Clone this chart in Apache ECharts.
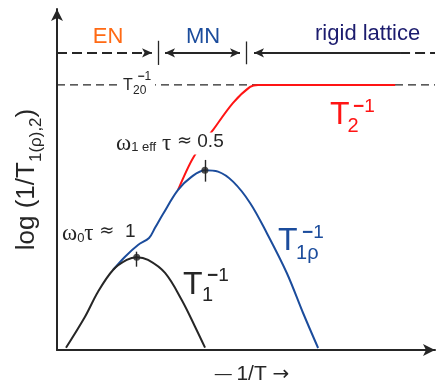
<!DOCTYPE html>
<html>
<head>
<meta charset="utf-8">
<script src="https://cdn.jsdelivr.net/npm/echarts@6/dist/echarts.min.js"></script>
<style>
  html, body { margin: 0; padding: 0; background: #fff; }
  #c { width: 441px; height: 391px; }
</style>
</head>
<body>
<div id="c"></div>
<script>
// Schematic relaxation rates against inverse temperature.
// x: -1/T (arbitrary units), y: log of the rate (arbitrary units).
const t1Curve = [[2.34, 0.67], [7.29, 9.65], [10.68, 16.9], [14.58, 23.19], [18.15, 26.09],
  [20.75, 26.87], [23.7, 26.09], [28.13, 22.32], [32.47, 14.49], [35.94, 6.75], [38.54, 0.67]];
const t1rhoCurve = [[14.58, 23.19], [17.71, 27.04], [21.09, 30.43], [23.96, 32.46], [25.52, 35.4],
  [27.6, 39.4], [31.51, 46.38], [35.08, 50.23], [38.5, 52.1], [41.93, 51.68], [45.83, 48.78],
  [50.26, 42.61], [54.61, 33.91], [59.82, 22.32], [64.06, 10.72], [67.97, 0.58]];
const t2Curve = [[31.51, 46.38], [35.42, 55.65], [40.63, 63.77], [45.83, 71.59], [50.26, 76.23],
  [52.34, 76.81], [88.02, 76.81]];
const t20Level = 76.81;          // rigid-lattice limit of 1/T2
const regimeLevel = 86.09;       // height of the regime bar
const regimeBounds = [26.3, 49.2];  // EN | MN | rigid lattice
const regimeNames = ['EN', 'MN', 'rigid lattice'];
const peakPoints = [[20.75, 26.87], [38.5, 52.1]];      // ω0τ ≈ 1 and ω1eff τ ≈ 0.5
const peakTickSpans = [[24.14, 28.49], [48.78, 55.07]];

const X_MAX = 98.4, Y_MAX = 98.8;
const GRID = { left: 57, right: 6, top: 9, bottom: 41 };
const X_UNIT = (441 - GRID.left - GRID.right) / X_MAX;   // px per x unit

const SANS = '"Liberation Sans", Arial, Helvetica, sans-serif';
const SERIF = '"Liberation Serif", "Times New Roman", serif';
const SYM = '"DejaVu Sans", sans-serif';
const INK = '#262626', BLUE = '#1b4c9c', RED = '#ff1414', ORANGE = '#ff6a14', NAVY = '#1c1c6e';

const chart = echarts.init(document.getElementById('c'), null, { renderer: 'canvas' });

const axisLine = { show: true, symbol: ['none', 'arrow'], symbolSize: [9, 12],
  lineStyle: { color: INK, width: 2 } };

// Regime bar: dashed lead-in, arrowed spans, boundary ticks
const halfArrow = 5 / X_UNIT;
const enTip = regimeBounds[0] - 1 / X_UNIT;
const mnTipL = regimeBounds[0] + 2 / X_UNIT;
const mnTipR = regimeBounds[1] - 1 / X_UNIT;
const rgTip = regimeBounds[1] + 3 / X_UNIT;
const dashStart = 22.9, dashResume = 89.3;
const solid = { type: 'solid', width: 1.8, color: INK };
const dashed = { type: [10, 5], width: 1.8, color: INK };
function seg(x1, y1, x2, y2, s1, s2, style) {
  return [{ coord: [x1, y1], symbol: s1, lineStyle: style }, { coord: [x2, y2], symbol: s2 }];
}
const regimeLines = [
  seg(0, regimeLevel, dashStart, regimeLevel, 'none', 'none', dashed),
  seg(dashStart, regimeLevel, enTip - halfArrow, regimeLevel, 'none', 'arrow', solid),
  seg(mnTipL + halfArrow, regimeLevel, mnTipR - halfArrow, regimeLevel, 'arrow', 'arrow', solid),
  seg(rgTip + halfArrow, regimeLevel, dashResume, regimeLevel, 'arrow', 'none', solid),
  seg(dashResume, regimeLevel, X_MAX, regimeLevel, 'none', 'none', dashed),
  seg(regimeBounds[0], regimeLevel - 3.5, regimeBounds[0], regimeLevel + 3.5, 'none', 'none', { type: 'solid', width: 1.3, color: INK }),
  seg(regimeBounds[1], regimeLevel - 3.3, regimeBounds[1], regimeLevel + 3.3, 'none', 'none', { type: 'solid', width: 1.3, color: INK })
];

const peakTicks = peakPoints.map((p, i) => [
  { coord: [p[0], peakTickSpans[i][0]], symbol: 'none', lineStyle: { color: INK, width: 1.4, type: 'solid' } },
  { coord: [p[0], peakTickSpans[i][1]], symbol: 'none' }
]);

chart.setOption({
  animation: false,
  grid: GRID,
  xAxis: {
    type: 'value', min: 0, max: X_MAX,
    axisLine, axisTick: { show: false }, axisLabel: { show: false }, splitLine: { show: false },
    name: '{d|— }{a|1/T }{r|→}', nameLocation: 'middle', nameGap: 14,
    nameTextStyle: {
      padding: [0, 0, 0, 12],
      rich: {
        d: { fontFamily: SANS, fontSize: 17, color: INK },
        a: { fontFamily: SANS, fontSize: 21, color: INK },
        r: { fontFamily: SYM, fontSize: 20, color: INK }
      }
    }
  },
  yAxis: {
    type: 'value', min: 0, max: Y_MAX,
    axisLine, axisTick: { show: false }, axisLabel: { show: false }, splitLine: { show: false },
    name: '{a|log (1/T}{b|1(ρ),2}{a|)}', nameLocation: 'middle', nameRotate: 90, nameGap: 12,
    nameTextStyle: {
      rich: {
        a: { fontFamily: SANS, fontSize: 26, lineHeight: 37, color: INK },
        b: { fontFamily: SANS, fontSize: 17, lineHeight: 7, verticalAlign: 'bottom', color: INK }
      }
    }
  },
  series: [
    {
      type: 'line', name: 'T20', data: [[0, t20Level], [X_MAX, t20Level]], symbol: 'none', silent: true,
      lineStyle: { color: INK, width: 1.3, type: [8, 5] },
      markLine: { silent: true, symbolSize: [7, 10], label: { show: false }, emphasis: { disabled: true }, data: regimeLines }
    },
    { type: 'line', name: 'T2', data: t2Curve, symbol: 'none', smooth: 0.3, silent: true,
      lineStyle: { color: RED, width: 2 } },
    { type: 'line', name: 'T1rho', data: t1rhoCurve, symbol: 'none', smooth: 0.35, silent: true,
      lineStyle: { color: BLUE, width: 2 } },
    { type: 'line', name: 'T1', data: t1Curve, symbol: 'none', smooth: 0.35, silent: true,
      lineStyle: { color: INK, width: 2 } },
    {
      type: 'scatter', name: 'peaks', data: peakPoints, symbol: 'circle', symbolSize: 7, silent: true,
      itemStyle: { color: INK }, z: 5,
      markLine: { silent: true, label: { show: false }, emphasis: { disabled: true }, data: peakTicks }
    }
  ]
});

// Annotations anchored in data space
function at(p) { return chart.convertToPixel({ gridIndex: 0 }, p); }

function supRich(size, color) {
  return {
    m: { fontFamily: SANS, fontSize: size, fontWeight: 'bold', fill: color },
    o: { fontFamily: SANS, fontSize: size, fill: color }
  };
}

function tensor(anchor, base, sub, sup, o) {
  const p = at(anchor);
  const els = [];
  if (o.bg) {
    els.push({ type: 'rect', shape: { x: p[0] - 4, y: p[1] - 13, width: o.bg, height: 24 },
      style: { fill: '#fff' }, z: 10 });
  }
  els.push({ type: 'text', x: p[0], y: p[1], z: 11,
    style: { text: base, fontFamily: SANS, fontSize: o.size, fill: o.color, align: 'left', verticalAlign: 'middle' } });
  els.push({ type: 'text', x: p[0] + o.sub[0], y: p[1] + o.sub[1], z: 11,
    style: { text: sub, fontFamily: SANS, fontSize: o.subSize, fill: o.color, align: 'left', verticalAlign: 'middle' } });
  els.push({ type: 'text', x: p[0] + o.sup[0], y: p[1] + o.sup[1], z: 11,
    style: { text: '{m|−}{o|' + sup + '}', rich: supRich(o.supSize, o.color), align: 'left', verticalAlign: 'middle' } });
  return els;
}

const regimeLabelY = [90.72, 90.72, 91.48];
const regimeLabelX = [13.28, 38.02, 80.86];
const regimeColors = [ORANGE, BLUE, NAVY];

const graphics = [];
regimeNames.forEach((name, i) => {
  const p = at([regimeLabelX[i], regimeLabelY[i]]);
  graphics.push({ type: 'text', x: p[0], y: p[1], z: 11,
    style: { text: name, fontFamily: SANS, fontSize: 22, fill: regimeColors[i], align: 'center', verticalAlign: 'middle' } });
});

graphics.push(...tensor([17.19, 76.52], 'T', '20', '1',
  { size: 16, subSize: 12, supSize: 12, color: INK, sub: [10, 5], sup: [14.5, -9], bg: 36 }));
graphics.push(...tensor([71.09, 68.12], 'T', '2', '1',
  { size: 32, subSize: 20, supSize: 19, color: RED, sub: [17.5, 12], sup: [23, -8.5] }));
graphics.push(...tensor([57.55, 31.45], 'T', '1ρ', '1',
  { size: 32, subSize: 20, supSize: 19, color: BLUE, sub: [18, 12], sup: [24, -8.5] }));
graphics.push(...tensor([32.81, 18.84], 'T', '1', '1',
  { size: 32, subSize: 20, supSize: 19, color: INK, sub: [19, 11], sup: [24, -9] }));

const omegaRich = {
  w: { fontFamily: SERIF, fontSize: 23, lineHeight: 22, verticalAlign: 'top', fill: INK },
  s: { fontFamily: SANS, fontSize: 13, lineHeight: 10, verticalAlign: 'bottom', fill: INK },
  q: { fontFamily: SYM, fontSize: 18, lineHeight: 22, verticalAlign: 'top', fill: INK },
  m: { fontFamily: SANS, fontSize: 19, lineHeight: 22, verticalAlign: 'top', fill: INK }
};
let p = at([15.1, 59.86]);
graphics.push({ type: 'text', x: p[0], y: p[1], z: 11,
  style: { text: '{w|ω}{s|1 eff}{w| τ}{q| ≈}{m| 0.5}', rich: omegaRich, align: 'left', verticalAlign: 'middle',
    backgroundColor: '#fff', padding: [0, 1] } });
p = at([1.3, 33.77]);
graphics.push({ type: 'text', x: p[0], y: p[1], z: 11,
  style: { text: '{w|ω}{s|0}{w|τ}{q| ≈}{m|  1}', rich: omegaRich, align: 'left', verticalAlign: 'middle' } });

chart.setOption({ graphic: { elements: graphics } });
</script>
</body>
</html>
